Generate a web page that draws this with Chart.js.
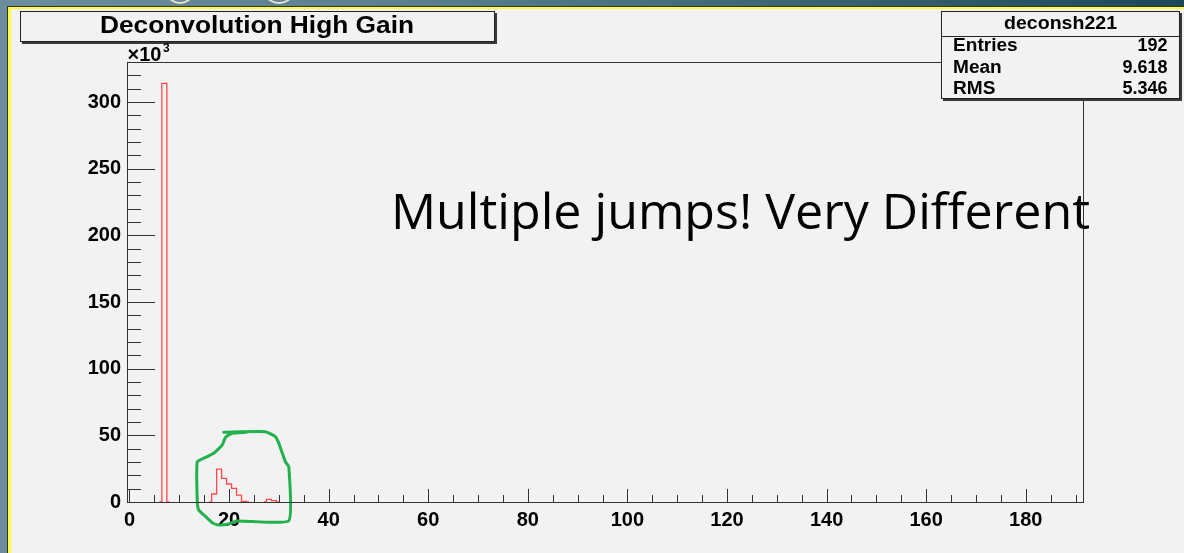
<!DOCTYPE html>
<html><head><meta charset="utf-8">
<script src="https://cdn.jsdelivr.net/npm/chart.js@4/dist/chart.umd.min.js"></script>
<style>
html,body{margin:0;padding:0;}
body{width:1184px;height:553px;position:relative;overflow:hidden;background:linear-gradient(to right,#6c8d9d 0%,#5b7f90 35%,#1d4859 100%);}
#dark{position:absolute;left:7px;top:6px;right:0;bottom:0;background:#2f3a2c;}
#yel{position:absolute;left:8px;top:7px;right:0;bottom:0;background:#ffff40;}
#pad{position:absolute;left:11px;top:9px;right:0;bottom:0;background:#f2f2f2;}
.spot{position:absolute;top:-14px;height:14px;border-radius:50%;border:2px solid #e6e2cc;}
canvas{position:absolute;left:0;top:0;}
.t{position:absolute;white-space:nowrap;color:#000;transform-origin:0 0;}
.box{position:absolute;background:#f2f2f2;border:1px solid #222;box-shadow:2px 2px 0 #3a3a3a;box-sizing:border-box;}
</style>
</head><body>
<div id="dark"></div><div id="yel"></div><div id="pad"></div>
<div class="spot" style="left:168px;width:20px"></div>
<div class="spot" style="left:266px;width:22px"></div>
<canvas id="c" width="1184" height="553"></canvas>
<div class="box" style="left:20px;top:11px;width:475px;height:31px"></div>
<div class="box" style="left:941px;top:11px;width:239px;height:88px"></div>
<div style="position:absolute;left:941px;top:36px;width:239px;height:1px;background:#222"></div>
<div id="texts"></div>
<script>
// ---- data ----
const chartTitle = "Deconvolution High Gain";
const statsName = "deconsh221";
const statsLabels = ["Entries", "Mean", "RMS"];
const statsValues = ["192", "9.618", "5.346"];
const annotation = "Multiple jumps! Very Different";
const xTickLabels = [0, 20, 40, 60, 80, 100, 120, 140, 160, 180];
const yTickLabels = [0, 50, 100, 150, 200, 250, 300]; // ×10^3
const nBins = 192;
const binCenters = [7, 17, 18, 19, 20, 21, 22, 23, 28, 29];
const binCounts  = [314000, 6000, 24700, 17700, 13500, 10200, 5200, 500, 2000, 1000];
// hand-drawn green loop (data coordinates)
const loopX = [18.9, 27.3, 29.3, 30.0, 30.7, 31.3, 32.0, 32.0, 21.6, 19.9, 17.9, 16.6, 15.3, 13.9, 13.6, 13.6, 14.9, 16.9, 18.6, 19.3, 20.6, 23.5];
const loopY = [52300, 52700, 49000, 44000, 36500, 30200, 26500, -14000, -14200, -16500, -17200, -15500, -11000, -6000, 1500, 30200, 32800, 36500, 42700, 48500, 51600, 52300];

// ---- build datasets ----
const histData = [];
for (let i = 0; i < nBins; i++) {
  const k = binCenters.indexOf(i);
  histData.push({x: i, y: k >= 0 ? binCounts[k] : 0});
}
const loopData = loopX.map((x, i) => ({x: x, y: loopY[i]}));

const axisFont = {family: '"Liberation Sans", Arial, sans-serif', size: 20, weight: 'bold'};

const framePlugin = {
  id: 'rootFrame',
  afterDraw(chart) {
    const ctx = chart.ctx, a = chart.chartArea;
    const xs = chart.scales.x, ys = chart.scales.y;
    ctx.save();
    ctx.strokeStyle = '#333';
    ctx.lineWidth = 1;
    ctx.strokeRect(Math.round(a.left) + 0.5, Math.round(a.top) + 0.5, Math.round(a.right - a.left), Math.round(a.bottom - a.top));
    ctx.beginPath();
    for (let v = 0; v <= 330000; v += 10000) {
      const y = Math.round(ys.getPixelForValue(v)) + 0.5;
      const len = (v % 50000 === 0) ? 28 : 14;
      ctx.moveTo(a.left, y); ctx.lineTo(a.left + len, y);
    }
    for (let v = 0; v <= 190; v += 5) {
      const x = Math.round(xs.getPixelForValue(v)) + 0.5;
      const len = (v % 20 === 0) ? 13 : 7;
      ctx.moveTo(x, a.bottom); ctx.lineTo(x, a.bottom - len);
    }
    ctx.stroke();
    ctx.restore();
  }
};

new Chart(document.getElementById('c'), {
  type: 'line',
  data: {
    datasets: [
      {
        data: histData, stepped: 'middle', borderColor: '#ff4a4a', borderWidth: 1.3,
        pointRadius: 0, fill: false, order: 2,
        segment: { borderColor: c => (c.p0.parsed.y === 0 && c.p1.parsed.y === 0) ? 'rgba(0,0,0,0)' : '#ff4a4a' }
      },
      {
        data: loopData, borderColor: '#22b14c', borderWidth: 3, pointRadius: 0, fill: false,
        tension: 0.15, capBezierPoints: false, clip: false, order: 1, borderJoinStyle: 'round', borderCapStyle: 'round'
      }
    ]
  },
  options: {
    responsive: false, animation: false,
    layout: {padding: {left: 0, top: 62, right: 101, bottom: 0}},
    plugins: {legend: {display: false}, tooltip: {enabled: false}},
    scales: {
      x: {
        type: 'linear', min: -0.5, max: 191.5, z: 1,
        grid: {display: false, drawTicks: false},
        border: {display: true, color: '#333', width: 1},
        ticks: {font: axisFont, color: '#000', padding: 6, maxRotation: 0, autoSkip: false},
        afterBuildTicks: s => { s.ticks = xTickLabels.map(v => ({value: v})); },
        afterFit: s => { s.height = 51; }
      },
      y: {
        type: 'linear', min: 0, max: 330000, z: 1,
        grid: {display: false, drawTicks: false},
        border: {display: true, color: '#333', width: 1},
        ticks: {font: axisFont, color: '#000', padding: 6, callback: v => String(v / 1000)},
        afterBuildTicks: s => { s.ticks = yTickLabels.map(v => ({value: v * 1000})); },
        afterFit: s => { s.width = 127; }
      }
    }
  },
  plugins: [framePlugin]
});

// ---- text placement ----
const mctx = document.createElement('canvas').getContext('2d');
const holder = document.getElementById('texts');
function place(text, o) {
  const font = (o.weight || 'normal') + ' ' + o.size + 'px ' + o.family;
  mctx.font = font;
  const m = mctx.measureText(text);
  const A = m.fontBoundingBoxAscent, D = m.fontBoundingBoxDescent, w = m.width;
  const sx = o.width ? o.width / w : (o.scaleX || 1);
  const d = document.createElement('div');
  d.className = 't';
  d.textContent = text;
  d.style.font = font;
  d.style.lineHeight = (A + D) + 'px';
  d.style.top = (o.baseline - A) + 'px';
  let left = o.x;
  if (o.align === 'center') left = o.x - w * sx / 2;
  if (o.align === 'right') left = o.x - w * sx;
  d.style.left = left + 'px';
  d.style.transform = 'scaleX(' + sx + ')';
  holder.appendChild(d);
}
const sans = '"Liberation Sans", Arial, sans-serif';
place(chartTitle, {family: sans, weight: 'bold', size: 23.5, x: 257, align: 'center', baseline: 32.5, width: 314});
place(statsName, {family: sans, weight: 'bold', size: 18, x: 1060, align: 'center', baseline: 28.7, width: 113});
const rowBase = [50.7, 72.7, 94.3];
statsLabels.forEach((l, i) => {
  place(l, {family: sans, weight: 'bold', size: 18, x: 952.5, align: 'left', baseline: rowBase[i], scaleX: 1.06});
  place(statsValues[i], {family: sans, weight: 'bold', size: 18, x: 1167.5, align: 'right', baseline: rowBase[i], scaleX: 1.0});
});
place('\u00d710', {family: sans, weight: 'bold', size: 20, x: 127.5, align: 'left', baseline: 61});
place('3', {family: sans, weight: 'bold', size: 12, x: 163, align: 'left', baseline: 52});
place(annotation, {family: '"Open Sans", "Noto Sans", sans-serif', weight: 'normal', size: 50, x: 391, align: 'left', baseline: 229, width: 699});
</script>
</body></html>
